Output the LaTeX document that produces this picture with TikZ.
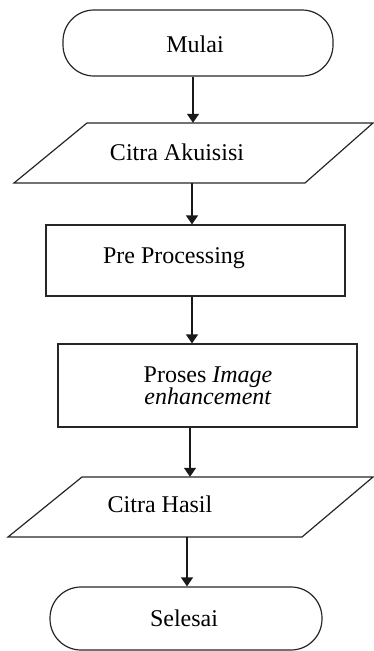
\documentclass[tikz,border=0pt]{standalone}
\usepackage{fontspec}
\setmainfont{Liberation Serif}
\usetikzlibrary{arrows.meta}
\begin{document}
\begin{tikzpicture}[x=1pt,y=-1pt,
  every node/.style={font=\fontsize{24}{22}\selectfont, inner sep=0pt},
  shapeline/.style={draw=black!85, line width=1.2pt},
  term/.style={shapeline, rounded corners=31pt},
  procbox/.style={shapeline, rectangle},
  arr/.style={draw=black!90, line width=1.3pt, -{Triangle[length=9pt,width=12pt]}},
  lbl/.style={text=black, anchor=center}]
\useasboundingbox (0,0) rectangle (374,651);
% Mulai
\node[term, minimum width=270pt, minimum height=66pt] (m) at (198,43) {};
\node[lbl] (mt) at (195,44) {Mulai};
% Citra Akuisisi
\draw[shapeline] (87,123) -- (373,123) -- (305,183) -- (14,183) -- cycle;
\node[minimum width=220pt, minimum height=60pt] (ca) at (194,153) {};
\node[lbl] (cat) at (177,152) {Citra Akuisisi};
% Pre Processing
\node[procbox, minimum width=299pt, minimum height=71pt] (pp) at (195.5,260.5) {};
\node[lbl] (ppt) at (174,258) {Pre Processing};
% Proses Image enhancement
\node[procbox, minimum width=299pt, minimum height=83pt] (pe) at (207.5,385.5) {};
\node[lbl, align=center] (pet) at (208,386) {Proses \textit{Image}\\\textit{enhancement}};
% Citra Hasil
\draw[shapeline] (82,477) -- (373,477) -- (302,537) -- (8,537) -- cycle;
\node[minimum width=220pt, minimum height=60pt] (ch) at (190,507) {};
\node[lbl] (cht) at (160,504) {Citra Hasil};
% Selesai
\node[term, minimum width=272pt, minimum height=63pt] (s) at (186,618.5) {};
\node[lbl] (st) at (184,618) {Selesai};
% arrows
\coordinate (x1) at (193,0);
\coordinate (x2) at (192,0);
\coordinate (x3) at (192,0);
\coordinate (x4) at (190,0);
\coordinate (x5) at (187,0);
\draw[arr] (m.south -| x1) -- (ca.north -| x1);
\draw[arr] (ca.south -| x2) -- (pp.north -| x2);
\draw[arr] (pp.south -| x3) -- (pe.north -| x3);
\draw[arr] (pe.south -| x4) -- (ch.north -| x4);
\draw[arr] (ch.south -| x5) -- (s.north -| x5);
\end{tikzpicture}
\end{document}
